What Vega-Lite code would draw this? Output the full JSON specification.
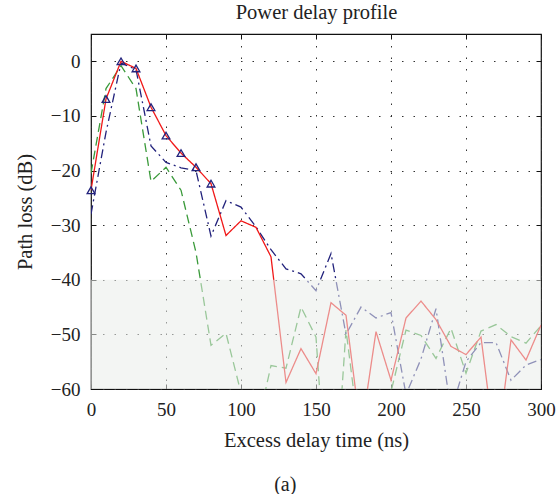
{
  "$schema": "https://vega.github.io/schema/vega-lite/v6.json",
  "width": 450,
  "height": 355,
  "autosize": {"type": "none"},
  "padding": {"left": 91, "top": 34, "right": 19, "bottom": 105},
  "config": {
    "font": "Liberation Serif",
    "view": {"stroke": "#111", "strokeWidth": 1.2},
    "axis": {
      "labelFont": "Liberation Serif",
      "titleFont": "Liberation Serif",
      "labelFontSize": 19,
      "titleFontSize": 20.5,
      "titleFontWeight": "normal",
      "labelColor": "#222",
      "titleColor": "#222",
      "tickColor": "#111",
      "domain": false
    },
    "title": {"font": "Liberation Serif", "fontSize": 20, "fontWeight": "normal", "color": "#222"}
  },
  "title": {"text": "(a)", "orient": "bottom", "anchor": "middle", "frame": "bounds", "offset": 24},
  "datasets": {
    "curves": [
      {"t": 0, "loss": -20.5, "series": "Profile 2"},
      {"t": 10, "loss": -5, "series": "Profile 2"},
      {"t": 20, "loss": -0.8, "series": "Profile 2"},
      {"t": 30, "loss": -5, "series": "Profile 2"},
      {"t": 40, "loss": -22, "series": "Profile 2"},
      {"t": 50, "loss": -19.4, "series": "Profile 2"},
      {"t": 60, "loss": -23.6, "series": "Profile 2"},
      {"t": 70, "loss": -35, "series": "Profile 2"},
      {"t": 80, "loss": -52, "series": "Profile 2"},
      {"t": 90, "loss": -49.8, "series": "Profile 2"},
      {"t": 100, "loss": -60.7, "series": "Profile 2"},
      {"t": 110, "loss": -68, "series": "Profile 2"},
      {"t": 120, "loss": -55.7, "series": "Profile 2"},
      {"t": 130, "loss": -56.2, "series": "Profile 2"},
      {"t": 140, "loss": -45, "series": "Profile 2"},
      {"t": 150, "loss": -50.5, "series": "Profile 2"},
      {"t": 160, "loss": -90, "series": "Profile 2"},
      {"t": 170, "loss": -49.2, "series": "Profile 2"},
      {"t": 180, "loss": -71, "series": "Profile 2"},
      {"t": 190, "loss": -75, "series": "Profile 2"},
      {"t": 200, "loss": -60.5, "series": "Profile 2"},
      {"t": 210, "loss": -49.2, "series": "Profile 2"},
      {"t": 220, "loss": -50.2, "series": "Profile 2"},
      {"t": 230, "loss": -54.4, "series": "Profile 2"},
      {"t": 240, "loss": -48.9, "series": "Profile 2"},
      {"t": 250, "loss": -57.1, "series": "Profile 2"},
      {"t": 260, "loss": -49.4, "series": "Profile 2"},
      {"t": 270, "loss": -48.2, "series": "Profile 2"},
      {"t": 280, "loss": -50.4, "series": "Profile 2"},
      {"t": 290, "loss": -51.6, "series": "Profile 2"},
      {"t": 300, "loss": -48.4, "series": "Profile 2"},
      {"t": 0, "loss": -28, "series": "Profile 3"},
      {"t": 10, "loss": -13, "series": "Profile 3"},
      {"t": 20, "loss": -0.3, "series": "Profile 3"},
      {"t": 30, "loss": -1.5, "series": "Profile 3"},
      {"t": 40, "loss": -15.5, "series": "Profile 3"},
      {"t": 50, "loss": -18.5, "series": "Profile 3"},
      {"t": 60, "loss": -19.5, "series": "Profile 3"},
      {"t": 70, "loss": -20, "series": "Profile 3"},
      {"t": 80, "loss": -32, "series": "Profile 3"},
      {"t": 90, "loss": -25.5, "series": "Profile 3"},
      {"t": 100, "loss": -26.7, "series": "Profile 3"},
      {"t": 110, "loss": -30.3, "series": "Profile 3"},
      {"t": 120, "loss": -34.5, "series": "Profile 3"},
      {"t": 130, "loss": -38, "series": "Profile 3"},
      {"t": 140, "loss": -38.9, "series": "Profile 3"},
      {"t": 150, "loss": -42, "series": "Profile 3"},
      {"t": 160, "loss": -35.2, "series": "Profile 3"},
      {"t": 170, "loss": -50, "series": "Profile 3"},
      {"t": 180, "loss": -45, "series": "Profile 3"},
      {"t": 190, "loss": -47, "series": "Profile 3"},
      {"t": 200, "loss": -46, "series": "Profile 3"},
      {"t": 210, "loss": -61, "series": "Profile 3"},
      {"t": 220, "loss": -54.5, "series": "Profile 3"},
      {"t": 230, "loss": -45.3, "series": "Profile 3"},
      {"t": 240, "loss": -64, "series": "Profile 3"},
      {"t": 250, "loss": -55, "series": "Profile 3"},
      {"t": 260, "loss": -51.5, "series": "Profile 3"},
      {"t": 270, "loss": -51.5, "series": "Profile 3"},
      {"t": 280, "loss": -58.4, "series": "Profile 3"},
      {"t": 290, "loss": -55.6, "series": "Profile 3"},
      {"t": 300, "loss": -54.6, "series": "Profile 3"},
      {"t": 0, "loss": -23.6, "series": "Profile 1"},
      {"t": 10, "loss": -6.9, "series": "Profile 1"},
      {"t": 20, "loss": 0, "series": "Profile 1"},
      {"t": 30, "loss": -1.3, "series": "Profile 1"},
      {"t": 40, "loss": -8.4, "series": "Profile 1"},
      {"t": 50, "loss": -13.6, "series": "Profile 1"},
      {"t": 60, "loss": -16.8, "series": "Profile 1"},
      {"t": 70, "loss": -19.4, "series": "Profile 1"},
      {"t": 80, "loss": -22.4, "series": "Profile 1"},
      {"t": 90, "loss": -31.9, "series": "Profile 1"},
      {"t": 100, "loss": -29.2, "series": "Profile 1"},
      {"t": 110, "loss": -30.4, "series": "Profile 1"},
      {"t": 120, "loss": -35.8, "series": "Profile 1"},
      {"t": 130, "loss": -58.8, "series": "Profile 1"},
      {"t": 140, "loss": -52.6, "series": "Profile 1"},
      {"t": 150, "loss": -57.2, "series": "Profile 1"},
      {"t": 160, "loss": -44.2, "series": "Profile 1"},
      {"t": 170, "loss": -46.5, "series": "Profile 1"},
      {"t": 180, "loss": -68, "series": "Profile 1"},
      {"t": 190, "loss": -49.5, "series": "Profile 1"},
      {"t": 200, "loss": -58.4, "series": "Profile 1"},
      {"t": 210, "loss": -47, "series": "Profile 1"},
      {"t": 220, "loss": -43.9, "series": "Profile 1"},
      {"t": 230, "loss": -47.3, "series": "Profile 1"},
      {"t": 240, "loss": -52.2, "series": "Profile 1"},
      {"t": 250, "loss": -53.7, "series": "Profile 1"},
      {"t": 260, "loss": -50.5, "series": "Profile 1"},
      {"t": 270, "loss": -72, "series": "Profile 1"},
      {"t": 280, "loss": -51, "series": "Profile 1"},
      {"t": 290, "loss": -54.7, "series": "Profile 1"},
      {"t": 300, "loss": -48.3, "series": "Profile 1"}
    ],
    "shade": [{"t0": 0, "t1": 300, "lo": -60, "hi": -40}]
  },
  "layer": [
    {
      "data": {"name": "curves"},
      "mark": {"type": "line", "clip": true, "strokeWidth": 1.3},
      "encoding": {
        "x": {
          "field": "t", "type": "quantitative",
          "scale": {"domain": [0, 300], "nice": false},
          "axis": {
            "orient": "bottom", "values": [0, 50, 100, 150, 200, 250, 300],
            "tickSize": -5, "labelPadding": 16, "labelFlush": false,
            "grid": true, "gridDash": [1.5, 10], "gridColor": "#333", "gridWidth": 1,
            "title": "Excess delay time (ns)", "titlePadding": 11
          }
        },
        "y": {
          "field": "loss", "type": "quantitative",
          "scale": {"domain": [-60, 5], "nice": false, "zero": false},
          "axis": {
            "orient": "left", "values": [-60, -50, -40, -30, -20, -10, 0],
            "tickSize": -5, "labelPadding": 16, "labelFlush": false,
            "grid": true, "gridDash": [1.5, 10], "gridColor": "#333", "gridWidth": 1,
            "title": "Path loss (dB)", "titlePadding": 15
          }
        },
        "color": {
          "field": "series", "type": "nominal",
          "scale": {"domain": ["Profile 1", "Profile 2", "Profile 3"], "range": ["#f01818", "#3a9a3a", "#22227c"]},
          "legend": null
        },
        "strokeDash": {
          "field": "series", "type": "nominal",
          "scale": {"domain": ["Profile 1", "Profile 2", "Profile 3"], "range": [[1, 0], [9, 5], [9, 4, 2, 4]]},
          "legend": null
        }
      }
    },
    {
      "data": {"name": "curves"},
      "transform": [{"filter": "datum.series === 'Profile 1' && datum.t <= 80"}],
      "mark": {"type": "point", "shape": "triangle-up", "filled": false, "size": 60, "strokeWidth": 1.3, "color": "#22227c", "opacity": 1},
      "encoding": {
        "x": {"field": "t", "type": "quantitative", "axis": null},
        "y": {"field": "loss", "type": "quantitative", "axis": null}
      }
    },
    {
      "data": {"name": "shade"},
      "mark": {"type": "rect", "fill": "#e9ece9", "opacity": 0.55},
      "encoding": {
        "x": {"field": "t0", "type": "quantitative", "axis": null},
        "x2": {"field": "t1"},
        "y": {"field": "lo", "type": "quantitative", "axis": null},
        "y2": {"field": "hi"}
      }
    },
    {
      "data": {"name": "shade"},
      "mark": {"type": "point", "opacity": 0},
      "encoding": {
        "x": {
          "field": "t0", "type": "quantitative",
          "axis": {
            "orient": "top", "values": [0, 50, 100, 150, 200, 250, 300],
            "labels": false, "tickSize": -5, "grid": false,
            "title": "Power delay profile", "titlePadding": 11
          }
        },
        "y": {
          "field": "lo", "type": "quantitative",
          "axis": {
            "orient": "right", "values": [-60, -50, -40, -30, -20, -10, 0],
            "labels": false, "tickSize": -5, "grid": false, "title": null
          }
        }
      }
    }
  ],
  "resolve": {"axis": {"x": "independent", "y": "independent"}}
}
